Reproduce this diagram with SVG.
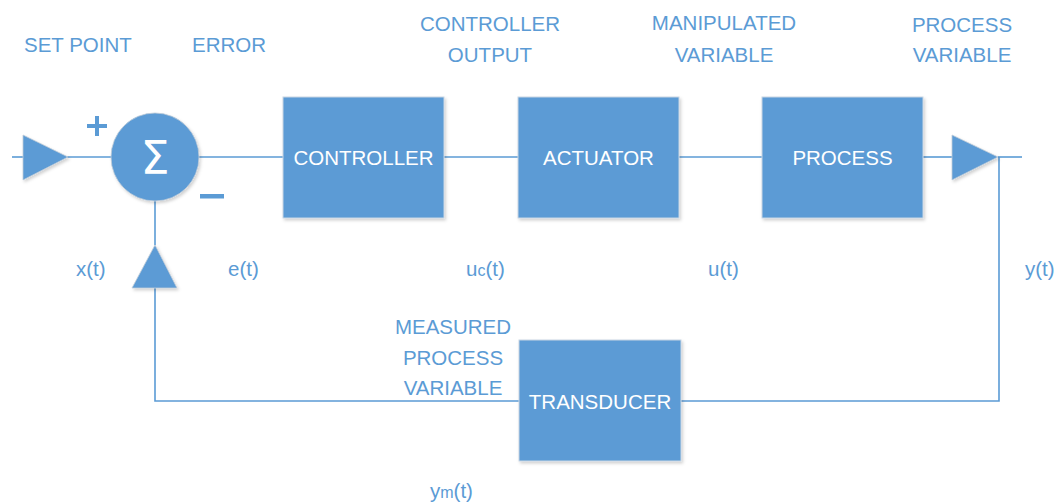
<svg xmlns="http://www.w3.org/2000/svg" width="1060" height="504" viewBox="0 0 1060 504">
  <defs>
    <filter id="shadow" x="-10%" y="-10%" width="125%" height="125%">
      <feDropShadow dx="1.5" dy="2" stdDeviation="1.5" flood-color="#000" flood-opacity="0.18"/>
    </filter>
    <style>
      .box { fill: #5B9BD5; stroke: #C9D6E3; stroke-width: 1; filter: url(#shadow); }
      .shape { fill: #5B9BD5; stroke: #BFCBD8; stroke-width: 0.8; filter: url(#shadow); }
      .wire { fill: none; stroke: #5B9BD5; stroke-width: 1.6; }
      .lbl { font-family: "Liberation Sans", Arial, sans-serif; font-size: 20.5px; fill: #5B9BD5; }
      .in { font-family: "Liberation Sans", Arial, sans-serif; font-size: 20.5px; fill: #FFFFFF; text-anchor: middle; }
      .sign { fill: #5B9BD5; }
      .mid { text-anchor: middle; }
    </style>
  </defs>

  <rect width="1060" height="504" fill="#FFFFFF"/>

  <!-- signal lines -->
  <g id="connectors">
    <path class="wire" d="M12 157 H25"/>
    <path class="wire" d="M67 157 H111"/>
    <path class="wire" d="M199 157 H283"/>
    <path class="wire" d="M444 157 H518"/>
    <path class="wire" d="M679 157 H762"/>
    <path class="wire" d="M923 157 H953"/>
    <path class="wire" d="M998 157 H1022"/>
    <path class="wire" d="M999 157 V401 H681"/>
    <path class="wire" d="M519 401 H155 V288"/>
    <path class="wire" d="M155 245 V201"/>
  </g>

  <!-- set point input -->
  <g id="input-arrow">
    <polygon class="shape" points="23,135 68,157 23,180"/>
  </g>

  <!-- summing junction -->
  <g id="summer">
    <circle class="shape" cx="155" cy="157" r="44"/>
    <text x="155" y="174" font-family="'DejaVu Sans', sans-serif" font-size="46" fill="#FFFFFF" text-anchor="middle">Σ</text>
    <rect class="sign" x="87" y="124" width="20" height="4"/>
    <rect class="sign" x="95" y="116" width="4" height="20"/>
    <rect class="sign" x="200" y="194" width="24" height="4.5"/>
  </g>

  <!-- feedback arrow into summer -->
  <g id="feedback-arrow">
    <polygon class="shape" points="132,288 155,245 177,288"/>
  </g>

  <g id="controller">
    <rect class="box" x="283" y="97" width="161" height="121"/>
    <text class="in" x="363.5" y="165">CONTROLLER</text>
  </g>

  <g id="actuator">
    <rect class="box" x="518" y="97" width="161" height="121"/>
    <text class="in" x="598.5" y="165">ACTUATOR</text>
  </g>

  <g id="process">
    <rect class="box" x="762" y="97" width="161" height="121"/>
    <text class="in" x="842.5" y="165">PROCESS</text>
  </g>

  <!-- process output -->
  <g id="output-arrow">
    <polygon class="shape" points="952,135 998,157 952,180"/>
  </g>

  <g id="transducer">
    <rect class="box" x="519" y="340" width="162" height="121"/>
    <text class="in" x="600" y="409">TRANSDUCER</text>
  </g>

  <!-- signal names -->
  <g id="labels">
    <text class="lbl" x="24" y="52">SET POINT</text>
    <text class="lbl" x="192" y="52">ERROR</text>
    <text class="lbl mid" x="490" y="31">CONTROLLER</text>
    <text class="lbl mid" x="490" y="62">OUTPUT</text>
    <text class="lbl mid" x="724" y="30">MANIPULATED</text>
    <text class="lbl mid" x="724" y="62">VARIABLE</text>
    <text class="lbl mid" x="962" y="32">PROCESS</text>
    <text class="lbl mid" x="962" y="62">VARIABLE</text>
    <text class="lbl mid" x="453" y="334">MEASURED</text>
    <text class="lbl mid" x="453" y="365">PROCESS</text>
    <text class="lbl mid" x="453" y="395">VARIABLE</text>

    <text class="lbl" x="76" y="276">x(t)</text>
    <text class="lbl" x="228" y="276">e(t)</text>
    <text class="lbl" x="466" y="276">u<tspan font-size="16">c</tspan>(t)</text>
    <text class="lbl" x="708" y="276">u(t)</text>
    <text class="lbl" x="1025" y="276">y(t)</text>
    <text class="lbl" x="430" y="498">y<tspan font-size="16">m</tspan>(t)</text>
  </g>
</svg>
